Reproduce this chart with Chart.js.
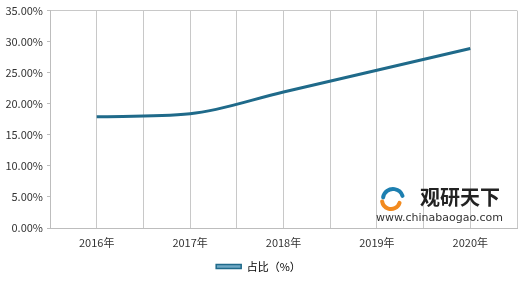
<!DOCTYPE html>
<html>
<head>
<meta charset="utf-8">
<script src="https://cdn.jsdelivr.net/npm/chart.js@4"></script>
<style>
  html, body { margin: 0; padding: 0; background: #fff; }
  #wrap { width: 520px; height: 284px; }
</style>
</head>
<body>
<div id="wrap"><canvas id="myChart" width="520" height="284"></canvas></div>
<script>
const years = ['2016年', '2017年', '2018年', '2019年', '2020年'];
const shares = [17.9, 18.4, 21.9, 25.4, 28.9];
const seriesName = '占比（%）';

const fontFamily = '"Noto Sans CJK SC", "Noto Sans", sans-serif';

// watermark drawn on top of the plot
const watermark = {
    id: 'watermark',
    afterDraw(chart) {
        const ctx = chart.ctx;
        ctx.save();
        // rough logo swirls
        ctx.lineCap = 'round';
        ctx.lineWidth = 4;
        ctx.strokeStyle = '#1d7fb0';
        ctx.beginPath();
        ctx.arc(393, 199, 10, Math.PI * 1.05, Math.PI * 1.9);
        ctx.stroke();
        ctx.strokeStyle = '#f28a1e';
        ctx.beginPath();
        ctx.arc(391, 200, 9, Math.PI * 0.1, Math.PI * 0.95);
        ctx.stroke();
        ctx.fillStyle = '#222';
        ctx.font = 'bold 20px ' + fontFamily;
        ctx.textBaseline = 'middle';
        ctx.fillText('观研天下', 420, 197);
        ctx.fillStyle = '#333';
        ctx.font = '11px "DejaVu Sans", sans-serif';
        ctx.fillText('www.chinabaogao.com', 376, 218);
        ctx.restore();
    }
};

const ctx = document.getElementById('myChart').getContext('2d');
const myChart = new Chart(ctx, {
    type: 'line',
    data: {
        datasets: [{
            label: seriesName,
            data: shares.map((v, i) => ({ x: i, y: v })),
            borderColor: '#1f6a8a',
            backgroundColor: '#6fa8c4',
            borderWidth: 3,
            pointRadius: 0,
            cubicInterpolationMode: 'monotone',
            fill: false
        }]
    },
    options: {
        responsive: false,
        animation: false,
        layout: { padding: { top: 5, right: 3, left: 0, bottom: 2 } },
        scales: {
            x: {
                type: 'linear',
                min: -0.5,
                max: 4.5,
                ticks: {
                    stepSize: 0.5,
                    autoSkip: false,
                    maxRotation: 0,
                    padding: 8,
                    color: '#333',
                    font: { family: fontFamily, size: 11 },
                    callback: v => Number.isInteger(v) ? years[v] : ''
                },
                grid: { color: '#c8c8c8', drawTicks: false },
                border: { color: '#bdbdbd' },
                afterFit: s => { s.height = 23; s.paddingRight = 0; }
            },
            y: {
                min: 0,
                max: 35,
                ticks: {
                    stepSize: 5,
                    padding: 4,
                    color: '#333',
                    font: { family: fontFamily, size: 11 },
                    callback: v => v.toFixed(2) + '%'
                },
                grid: {
                    color: c => c.tick && c.tick.value === 35 ? '#c8c8c8' : 'rgba(0,0,0,0)',
                    tickColor: '#bdbdbd',
                    tickLength: 3
                },
                border: { color: '#bdbdbd' },
                afterFit: s => { s.width = 50; }
            }
        },
        plugins: {
            legend: {
                position: 'bottom',
                labels: {
                    boxWidth: 25,
                    boxHeight: 4,
                    padding: 10,
                    color: '#333',
                    font: { family: fontFamily, size: 11 },
                    generateLabels: chart => [{
                        text: seriesName,
                        fillStyle: '#6fa8c4',
                        strokeStyle: '#1f6a8a',
                        lineWidth: 1.5,
                        datasetIndex: 0
                    }]
                }
            },
            tooltip: { enabled: false }
        }
    },
    plugins: [watermark]
});
</script>
</body>
</html>
